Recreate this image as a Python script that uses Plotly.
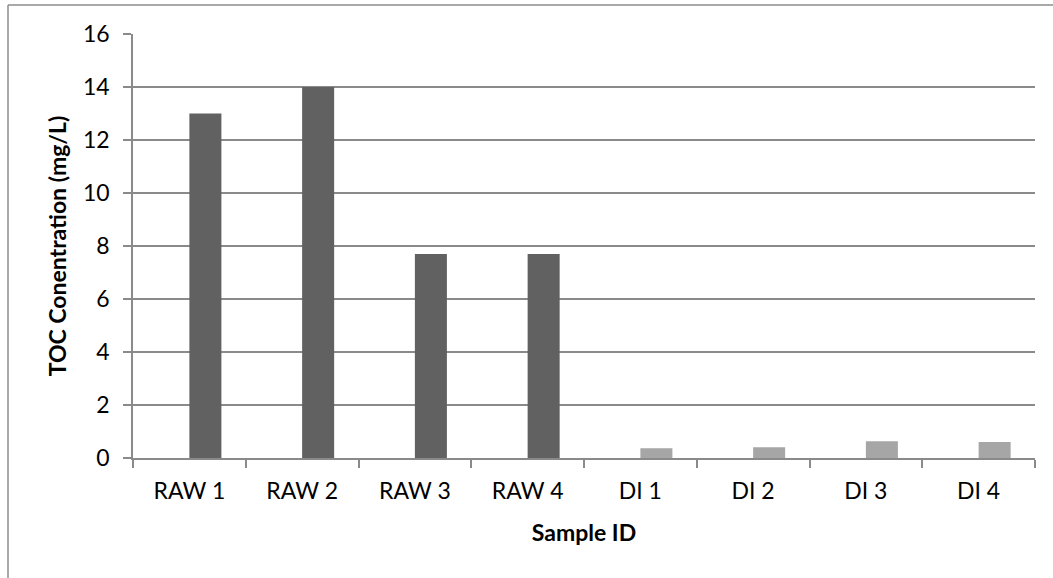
import plotly.graph_objects as go

categories = ["RAW 1", "RAW 2", "RAW 3", "RAW 4", "DI 1", "DI 2", "DI 3", "DI 4"]
toc_values = [13.0, 14.0, 7.7, 7.7, 0.37, 0.41, 0.63, 0.60]
bar_colors = ["#616161"] * 4 + ["#a6a6a6"] * 4
y_ticks = [0, 2, 4, 6, 8, 10, 12, 14, 16]

FONT = "Lato, Open Sans, sans-serif"
GRID = "#8a8a8a"
FS = 23

fig = go.Figure()
fig.add_trace(go.Bar(
    x=categories,
    y=toc_values,
    marker=dict(color=bar_colors, line=dict(width=0)),
    width=0.284,
    offset=0,
    showlegend=False,
))

W, H = 1053, 578
L, R, T, B = 133, 18, 34, 120
pw = W - L - R
ph = H - T - B

def px_x(p):
    return (p - L) / pw

def px_y(p):
    return (H - B - p) / ph

fig.update_layout(
    width=W, height=H,
    margin=dict(l=L, r=R, t=T, b=B, pad=0),
    paper_bgcolor="white",
    plot_bgcolor="white",
    font=dict(family=FONT, size=FS, color="#000000"),
    bargap=0.432,
    shapes=[
        dict(type="line", xref="paper", yref="paper",
             x0=px_x(8), x1=px_x(8), y0=px_y(600), y1=px_y(5),
             line=dict(color="#8c8c8c", width=1.5)),
        dict(type="line", xref="paper", yref="paper",
             x0=px_x(8), x1=px_x(1100), y0=px_y(5), y1=px_y(5),
             line=dict(color="#8c8c8c", width=1.5)),
    ],
)

fig.update_xaxes(
    type="category",
    showgrid=False,
    showline=True, linecolor=GRID, linewidth=1.5,
    ticks="outside", tickson="boundaries", ticklen=8, tickcolor=GRID, tickwidth=1.5,
    tickfont=dict(family=FONT, size=FS),
    ticklabelstandoff=12,
    title=dict(text="<b>Sample ID</b>", font=dict(family=FONT, size=FS), standoff=22),
    zeroline=False,
)
fig.update_yaxes(
    range=[0, 16],
    tickvals=y_ticks,
    showgrid=True, gridcolor=GRID, gridwidth=1.5,
    showline=True, linecolor=GRID, linewidth=1.5,
    ticks="outside", ticklen=8, tickcolor=GRID, tickwidth=1.5,
    tickfont=dict(family=FONT, size=FS),
    ticklabelstandoff=9,
    title=dict(text="<b>TOC Conentration (mg/L)</b>", font=dict(family=FONT, size=FS), standoff=10),
    zeroline=False,
)

fig.write_html("out.html")
